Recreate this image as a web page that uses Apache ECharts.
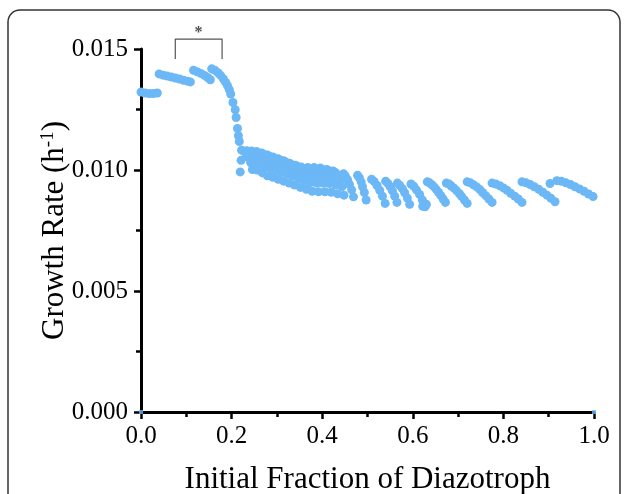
<!DOCTYPE html>
<html>
<head>
<meta charset="utf-8">
<script src="https://cdn.jsdelivr.net/npm/echarts@6/dist/echarts.min.js"></script>
<style>
    html, body { margin: 0; padding: 0; background: #fff; }
    #chart { width: 627px; height: 494px; }
</style>
</head>
<body>
<div id="chart"></div>
<script>
// axis ticks
const xTicks = [0, 0.2, 0.4, 0.6, 0.8, 1.0]
const yTicks = [0, 0.005, 0.010, 0.015]

// growth rate vs initial diazotroph fraction
const plateauLow = [[0, 0.01322], [0.009, 0.01318], [0.018, 0.01316], [0.027, 0.01316], [0.036, 0.01318]]
const plateauMid = [[0.040, 0.01397], [0.049, 0.01392], [0.058, 0.01388], [0.067, 0.01384], [0.076, 0.0138], [0.085, 0.01376], [0.094, 0.01371], [0.103, 0.01367], [0.109, 0.01364]]
const plateauHigh = [[0.116, 0.01412], [0.124, 0.01406], [0.132, 0.01399], [0.140, 0.01391], [0.147, 0.01382], [0.153, 0.01373]]
const peakDrop = [[0.156, 0.01418], [0.163, 0.01412], [0.170, 0.01402], [0.176, 0.0139], [0.182, 0.01376], [0.187, 0.01362], [0.191, 0.01348], [0.195, 0.01332], [0.198, 0.01314], [0.203, 0.01279], [0.208, 0.01249], [0.210, 0.01217], [0.213, 0.01172], [0.215, 0.01142], [0.217, 0.01118], [0.219, 0.00992], [0.221, 0.01040]]
const clusterArcs = [
    [[0.222, 0.01082], [0.227, 0.01077], [0.232, 0.01068], [0.237, 0.01052], [0.242, 0.01031], [0.246, 0.01002]],
    [[0.233, 0.0108], [0.238, 0.01075], [0.243, 0.01066], [0.248, 0.0105], [0.253, 0.01029], [0.257, 0.01]],
    [[0.244, 0.01078], [0.249, 0.01073], [0.254, 0.01062], [0.259, 0.01045], [0.264, 0.0102], [0.268, 0.00988]],
    [[0.255, 0.01076], [0.26, 0.0107], [0.265, 0.01058], [0.27, 0.01039], [0.275, 0.01012], [0.279, 0.00976]],
    [[0.267, 0.0107], [0.272, 0.01064], [0.277, 0.01052], [0.282, 0.01033], [0.287, 0.01006], [0.291, 0.0097]],
    [[0.279, 0.01062], [0.284, 0.01056], [0.289, 0.01044], [0.294, 0.01025], [0.299, 0.00998], [0.303, 0.00962]],
    [[0.291, 0.01054], [0.296, 0.01048], [0.301, 0.01036], [0.306, 0.01017], [0.311, 0.0099], [0.315, 0.00954]],
    [[0.303, 0.01046], [0.308, 0.0104], [0.313, 0.01028], [0.318, 0.01009], [0.323, 0.00982], [0.327, 0.00946]],
    [[0.315, 0.01038], [0.32, 0.01032], [0.325, 0.0102], [0.33, 0.01001], [0.335, 0.00974], [0.339, 0.00938]],
    [[0.328, 0.01028], [0.333, 0.01022], [0.338, 0.0101], [0.343, 0.00991], [0.348, 0.00964], [0.352, 0.00928]],
    [[0.341, 0.0102], [0.346, 0.01014], [0.351, 0.01002], [0.356, 0.00983], [0.361, 0.00956], [0.365, 0.0092]],
    [[0.354, 0.01012], [0.359, 0.01006], [0.364, 0.00994], [0.369, 0.00975], [0.374, 0.00948], [0.378, 0.00912]],
    [[0.368, 0.0101], [0.373, 0.01004], [0.378, 0.00992], [0.383, 0.00973], [0.388, 0.00946], [0.392, 0.0091]],
    [[0.382, 0.0101], [0.387, 0.01004], [0.392, 0.00992], [0.397, 0.00973], [0.402, 0.00946], [0.406, 0.0091]],
    [[0.396, 0.01008], [0.401, 0.01002], [0.406, 0.0099], [0.411, 0.00971], [0.416, 0.00944], [0.42, 0.00908]],
    [[0.41, 0.01002], [0.415, 0.00996], [0.42, 0.00984], [0.425, 0.00965], [0.43, 0.00938], [0.434, 0.00902]],
    [[0.424, 0.00996], [0.429, 0.0099], [0.434, 0.00978], [0.439, 0.00959], [0.444, 0.00932], [0.448, 0.00896]]
]
const tailArcs = [
    [[0.447, 0.00985], [0.451, 0.00975], [0.456, 0.0096], [0.460, 0.00941], [0.465, 0.00918], [0.469, 0.00889]],
    [[0.478, 0.00978], [0.482, 0.00968], [0.486, 0.00951], [0.489, 0.00931], [0.493, 0.00907], [0.497, 0.00876]],
    [[0.509, 0.00962], [0.515, 0.00952], [0.521, 0.00936], [0.527, 0.00916], [0.533, 0.00892], [0.539, 0.00862]],
    [[0.540, 0.00954], [0.545, 0.00945], [0.550, 0.00931], [0.555, 0.00914], [0.560, 0.00892], [0.565, 0.00866]],
    [[0.566, 0.00946], [0.571, 0.00937], [0.577, 0.00923], [0.582, 0.00906], [0.588, 0.00884], [0.593, 0.00858]],
    [[0.596, 0.00942], [0.602, 0.00933], [0.608, 0.00918], [0.615, 0.00899], [0.621, 0.00876], [0.627, 0.00848], [0.622, 0.0085], [0.630, 0.00858]],
    [[0.632, 0.00951], [0.637, 0.00947], [0.642, 0.00939], [0.647, 0.0093], [0.652, 0.00919], [0.657, 0.00907], [0.662, 0.00894], [0.667, 0.0088], [0.672, 0.00866]],
    [[0.674, 0.00946], [0.680, 0.00942], [0.685, 0.00934], [0.691, 0.00925], [0.697, 0.00914], [0.703, 0.00902], [0.708, 0.0089], [0.714, 0.00876], [0.720, 0.00862]],
    [[0.720, 0.00951], [0.727, 0.00947], [0.734, 0.00939], [0.741, 0.0093], [0.748, 0.00919], [0.754, 0.00907], [0.761, 0.00894], [0.768, 0.0088], [0.775, 0.00866]],
    [[0.775, 0.00946], [0.783, 0.00942], [0.792, 0.00935], [0.800, 0.00926], [0.808, 0.00916], [0.816, 0.00904], [0.825, 0.00892], [0.833, 0.0088], [0.841, 0.00866]],
    [[0.841, 0.00951], [0.850, 0.00947], [0.859, 0.0094], [0.868, 0.00931], [0.878, 0.0092], [0.887, 0.00908], [0.896, 0.00896], [0.905, 0.00883], [0.914, 0.00869]],
    [[0.903, 0.00944]],
    [[0.918, 0.00956], [0.928, 0.00953], [0.938, 0.00947], [0.948, 0.0094], [0.958, 0.00931], [0.968, 0.00922], [0.978, 0.00912], [0.988, 0.00901], [0.998, 0.0089]]
]
const edgePoints = [[0, 0], [1, 0]]

// significance bracket over the peak
const bracket = [[0.0757, 0.01459], [0.0757, 0.01541], [0.179, 0.01541], [0.179, 0.01459]]
const star = [[0.127, 0.01541]]

const points = [].concat(plateauLow, plateauMid, plateauHigh, peakDrop, clusterArcs.flat(), tailArcs.flat())

const font = 'Liberation Serif'
const blue = '#6cb7f6'

const chart = echarts.init(document.getElementById('chart'))
chart.setOption({
    animation: false,
    backgroundColor: '#fff',
    grid: { left: 141, right: 33, top: 49, bottom: 82, outerBoundsMode: 'none' },
    xAxis: {
        type: 'value',
        min: xTicks[0],
        max: xTicks[xTicks.length - 1],
        interval: xTicks[1] - xTicks[0],
        name: 'Initial Fraction of Diazotroph',
        nameLocation: 'middle',
        nameGap: 52,
        nameMoveOverlap: false,
        nameTextStyle: { fontFamily: font, fontSize: 31, color: '#000' },
        axisLine: { lineStyle: { color: '#000', width: 3 } },
        axisTick: { length: 7, lineStyle: { color: '#000', width: 2.5 } },
        minorTick: { show: true, splitNumber: 2, length: 5, lineStyle: { color: '#000', width: 2.5 } },
        splitLine: { show: false },
        axisLabel: {
            fontFamily: font, fontSize: 25, color: '#000', margin: 12,
            formatter: v => v.toFixed(1)
        }
    },
    yAxis: {
        type: 'value',
        min: yTicks[0],
        max: yTicks[yTicks.length - 1],
        interval: yTicks[1] - yTicks[0],
        name: 'Growth Rate (h{sup|-1})',
        nameLocation: 'middle',
        nameGap: 70,
        nameMoveOverlap: false,
        nameTextStyle: {
            fontFamily: font, fontSize: 31, color: '#000',
            rich: { sup: { fontFamily: font, fontSize: 19, color: '#000', padding: [0, 0, 13, 0] } }
        },
        axisLine: { lineStyle: { color: '#000', width: 3 } },
        axisTick: { length: 7, lineStyle: { color: '#000', width: 2.5 } },
        minorTick: { show: true, splitNumber: 2, length: 5, lineStyle: { color: '#000', width: 2.5 } },
        splitLine: { show: false },
        axisLabel: {
            fontFamily: font, fontSize: 25, color: '#000', margin: 13,
            formatter: v => v.toFixed(3)
        }
    },
    series: [
        {
            type: 'scatter',
            data: points,
            symbolSize: 9,
            itemStyle: { color: blue, opacity: 1 },
            z: 3
        },
        {
            type: 'scatter',
            data: edgePoints,
            symbol: 'rect',
            symbolSize: 4,
            itemStyle: { color: blue },
            clip: false,
            z: 4
        },
        {
            type: 'line',
            data: bracket,
            clip: false,
            symbol: 'none',
            lineStyle: { color: '#555', width: 1.2 }
        },
        {
            type: 'scatter',
            data: star,
            clip: false,
            symbolSize: 1,
            itemStyle: { color: 'rgba(0,0,0,0)' },
            label: {
                show: true, position: 'top', distance: -2,
                formatter: '*', fontFamily: font, fontSize: 16, fontWeight: 'bold', color: '#222'
            }
        }
    ],
    graphic: [{
        type: 'rect',
        shape: { x: 8, y: 10, width: 612, height: 520, r: 12 },
        style: { fill: null, stroke: '#333', lineWidth: 1.5 },
        silent: true
    }]
})
</script>
</body>
</html>
